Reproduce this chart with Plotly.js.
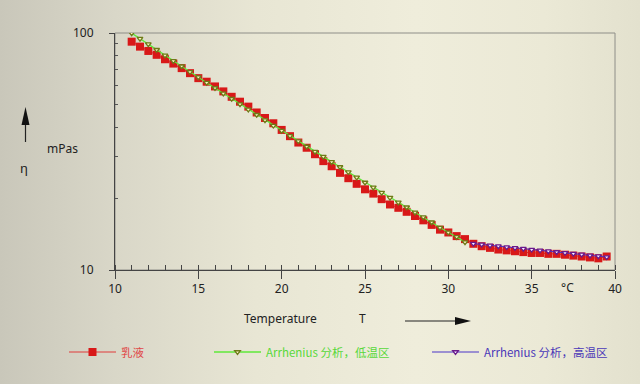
<!DOCTYPE html>
<html>
<head>
<meta charset="utf-8">
<script src="https://cdn.plot.ly/plotly-3.0.1.min.js"></script>
<style>
html,body{margin:0;padding:0;}
body{width:640px;height:384px;overflow:hidden;
background:linear-gradient(90deg,#c9c7ba 0%,#d9d7c8 18%,#e8e6d4 40%,#efeddb 65%,#ebe9d6 85%,#e3e1ce 100%);}
#chart{width:640px;height:384px;}
</style>
</head>
<body>
<div id="chart"></div>
<script>
// Emulsion (乳液) viscosity data, T in °C, η in mPas
const tempData = [11,11.5,12,12.5,13,13.5,14,14.5,15,15.5,16,16.5,17,17.5,18,18.5,19,19.5,20,20.5,
  21,21.5,22,22.5,23,23.5,24,24.5,25,25.5,26,26.5,27,27.5,28,28.5,29,29.5,30,30.5,
  31,31.5,32,32.5,33,33.5,34,34.5,35,35.5,36,36.5,37,37.5,38,38.5,39,39.5];
const etaData = [91.9,87.6,84.0,80.9,77.5,74.3,71.1,67.7,64.5,62.3,59.5,56.7,53.8,51.3,48.9,46.2,43.8,41.6,39.0,36.7,
  34.5,32.8,30.8,28.8,27.4,25.7,24.4,23.1,21.9,21.0,19.9,18.9,18.3,17.6,16.9,16.2,15.5,14.8,14.4,13.9,
  13.5,12.9,12.6,12.4,12.2,12.1,12.0,11.9,11.8,11.8,11.7,11.7,11.6,11.5,11.4,11.3,11.2,11.4];

// Arrhenius fit, low-temperature region
const tempLow = [11,11.5,12,12.5,13,13.5,14,14.5,15,15.5,16,16.5,17,17.5,18,18.5,19,19.5,20,20.5,
  21,21.5,22,22.5,23,23.5,24,24.5,25,25.5,26,26.5,27,27.5,28,28.5,29,29.5,30,30.5,31];
const etaLow = [99.9,94.6,89.7,85.0,80.5,76.3,72.4,68.6,65.1,61.7,58.6,55.6,52.8,50.1,47.6,45.2,42.9,40.7,38.7,36.8,
  35.0,33.2,31.6,30.1,28.6,27.2,25.9,24.6,23.4,22.3,21.2,20.2,19.3,18.4,17.5,16.7,15.9,15.1,14.4,13.8,13.1];

// Arrhenius fit, high-temperature region
const tempHigh = [31.5,32,32.5,33,33.5,34,34.5,35,35.5,36,36.5,37,37.5,38,38.5,39,39.5];
const etaHigh = [12.92,12.82,12.71,12.61,12.50,12.41,12.31,12.20,12.11,12.01,11.91,11.82,11.72,11.63,11.53,11.44,11.34];

const xTickVals = [10,15,20,25,30,35,40];
const yTickVals = [10,100];
const yTickText = ['10','100'];
const yMinorVals = [20,30,40,50,60,70,80,90];

const labelData = '乳液';
const labelLow = 'Arrhenius 分析，低温区';
const labelHigh = 'Arrhenius 分析，高温区';

const FONT = 'Noto Sans, DejaVu Sans, sans-serif';
const CJK = 'Noto Sans CJK SC, Noto Sans, sans-serif';

const traces = [
  {x: tempData, y: etaData, name: labelData, type: 'scatter', mode: 'lines+markers',
   line: {color: '#e03a3a', width: 1},
   marker: {symbol: 'square', size: 8, color: '#d81818', line: {width: 0}},
   legend: 'legend'},
  {x: tempLow, y: etaLow, name: labelLow, type: 'scatter', mode: 'lines+markers',
   line: {color: '#5fe83a', width: 1.3},
   marker: {symbol: 'triangle-down', size: 5, color: '#fbf6c4', line: {color: '#6f7a18', width: 1.3}},
   legend: 'legend2'},
  {x: tempHigh, y: etaHigh, name: labelHigh, type: 'scatter', mode: 'lines+markers',
   line: {color: '#4a34c8', width: 1},
   marker: {symbol: 'triangle-down', size: 5, color: '#f6f0ff', line: {color: '#6a1a8c', width: 1.3}},
   legend: 'legend3'}
];

function px2x(px){ return (px - 115) / 500; }
function py2y(py){ return (270 - py) / 237; }

const legendCommon = {orientation: 'h', xref: 'container', yref: 'container', yanchor: 'middle',
  xanchor: 'left', bgcolor: 'rgba(0,0,0,0)', itemwidth: 47, font: {family: CJK, size: 11.5}};

function note(text, px, py, size){
  return {text: text, xref: 'paper', yref: 'paper', x: px2x(px), y: py2y(py), xanchor: 'center', yanchor: 'middle',
    showarrow: false, font: {family: FONT, size: size || 12, color: '#222'}};
}

const layout = {
  width: 640, height: 384,
  margin: {l: 115, r: 25, t: 33, b: 114, pad: 0},
  paper_bgcolor: 'rgba(0,0,0,0)',
  plot_bgcolor: 'rgba(0,0,0,0)',
  showlegend: true,
  xaxis: {range: [10, 40], tickvals: xTickVals, ticks: 'outside', ticklen: 8, tickwidth: 1, tickcolor: '#444',
    showline: true, linecolor: '#444', linewidth: 1, showgrid: false, zeroline: false,
    tickfont: {family: FONT, size: 12, color: '#222'},
    minor: {dtick: 1, tick0: 10, ticks: 'inside', ticklen: 5, tickcolor: '#444', tickwidth: 1}},
  xaxis3: {range: [10, 40], overlaying: 'x', anchor: 'y', side: 'bottom', tickvals: xTickVals,
    ticks: 'inside', ticklen: 8, tickcolor: '#444', showticklabels: false, showline: false,
    showgrid: false, zeroline: false},
  yaxis: {type: 'log', range: [1, 2], tickvals: yTickVals, ticktext: yTickText, ticks: 'outside', ticklen: 5,
    tickcolor: '#444', showline: true, linecolor: '#444', linewidth: 1, showgrid: false, zeroline: false,
    ticklabelstandoff: 13, tickfont: {family: FONT, size: 12, color: '#222'},
    minor: {tickvals: yMinorVals, ticks: 'inside', ticklen: 3, tickcolor: '#555', tickwidth: 1}},
  legend: Object.assign({}, legendCommon, {x: 64/640, y: 32/384, font: {family: CJK, size: 11.5, color: '#e04848'}}),
  legend2: Object.assign({}, legendCommon, {x: 209/640, y: 32/384, font: {family: CJK, size: 11.5, color: '#58d83a'}}),
  legend3: Object.assign({}, legendCommon, {x: 427/640, y: 32/384, font: {family: CJK, size: 11.5, color: '#4a38b8'}}),
  shapes: [
    {type: 'rect', xref: 'paper', yref: 'paper', x0: 0, x1: 1, y0: 0, y1: 1, layer: 'below',
     line: {color: '#8e8e88', width: 1}},
    // y-axis arrow
    {type: 'line', xref: 'paper', yref: 'paper', x0: px2x(25.5), x1: px2x(25.5), y0: py2y(142), y1: py2y(124),
     line: {color: '#222', width: 1.2}},
    {type: 'path', xref: 'paper', yref: 'paper',
     path: 'M' + px2x(21.5) + ',' + py2y(125) + ' L' + px2x(29.5) + ',' + py2y(125) + ' L' + px2x(25.5) + ',' + py2y(107) + ' Z',
     fillcolor: '#111', line: {width: 0}},
    // x-axis arrow
    {type: 'line', xref: 'paper', yref: 'paper', x0: px2x(405), x1: px2x(456), y0: py2y(321), y1: py2y(321),
     line: {color: '#222', width: 1.2}},
    {type: 'path', xref: 'paper', yref: 'paper',
     path: 'M' + px2x(455) + ',' + py2y(317) + ' L' + px2x(455) + ',' + py2y(325) + ' L' + px2x(471) + ',' + py2y(321) + ' Z',
     fillcolor: '#111', line: {width: 0}}
  ],
  annotations: [
    note('Temperature', 280, 318),
    note('T', 362, 318),
    note('°C', 567, 287),
    note('mPas', 62, 148),
    note('η', 24, 168, 13)
  ]
};

Plotly.newPlot('chart', traces, layout, {displayModeBar: false, staticPlot: true});
</script>
</body>
</html>
